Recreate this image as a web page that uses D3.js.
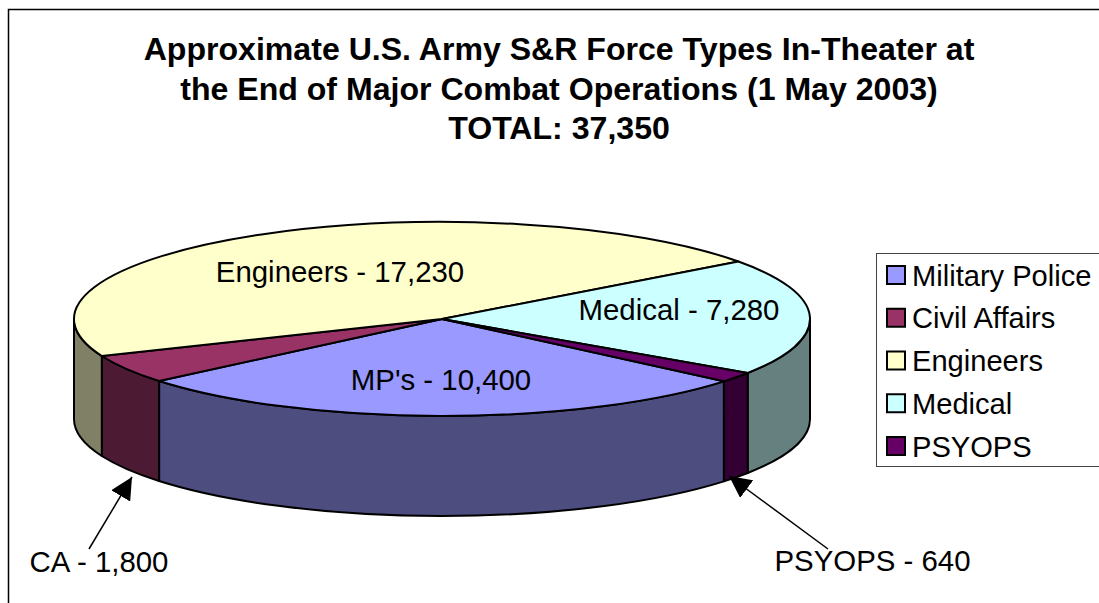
<!DOCTYPE html>
<html>
<head>
<meta charset="utf-8">
<script src="https://cdn.jsdelivr.net/npm/d3@7"></script>
<style>
  html, body { margin: 0; padding: 0; background: #fff; }
  svg { display: block; }
  text { font-family: "Liberation Sans", Arial, sans-serif; fill: #000; }
</style>
</head>
<body>
<div id="chart"></div>
<script>
const categories = ['Military Police', 'Civil Affairs', 'Engineers', 'Medical', 'PSYOPS']
const values = [10400, 1800, 17230, 7280, 640]
const topColors = ['#9999ff', '#993366', '#ffffcc', '#ccffff', '#660066']
const sideColors = ['#4d4d80', '#4d1a33', '#808066', '#668080', '#330033']
const titleLines = ['Approximate U.S. Army S&R Force Types In-Theater at', 'the End of Major Combat Operations (1 May 2003)', 'TOTAL: 37,350']
const sliceLabels = ["MP's - 10,400", null, 'Engineers - 17,230', 'Medical - 7,280', null]

const w = 1099, h = 603
const cx = 442, cy = 319, rx = 368, ry = 97, depth = 100
const startDeg = 130

const svg = d3.select('#chart').append('svg').attr('width', w).attr('height', h)

// chart frame, runs off the right and bottom of the picture
svg.append('path').attr('d', `M8.5,${h}V9.5H${w}`)
  .attr('fill', 'none').attr('stroke', '#000').attr('stroke-width', 1.5)

// title
svg.append('g').selectAll('text').data(titleLines).enter().append('text')
  .attr('x', 559).attr('y', (d, i) => 60 + i * 39.5)
  .attr('text-anchor', 'middle').attr('font-size', '32.1px').attr('font-weight', 'bold')
  .text(d => d)

// pie
const pie = d3.pie().sort(null)
  .startAngle(startDeg * Math.PI / 180)
  .endAngle((startDeg + 360) * Math.PI / 180)
const arcs = pie(values)

const px = d3.scaleLinear().domain([-1, 1]).range([cx - rx, cx + rx])
const py = d3.scaleLinear().domain([-1, 1]).range([cy - ry, cy + ry])
const pt = a => [px(Math.sin(a)), py(-Math.cos(a))]

// side wall of one slice between angles a and b (front half only)
function sidePath (a, b) {
  const [x0, y0] = pt(a), [x1, y1] = pt(b)
  return `M${x0},${y0}A${rx},${ry} 0 0 1 ${x1},${y1}V${y1 + depth}` +
    `A${rx},${ry} 0 0 0 ${x0},${y0 + depth}Z`
}
const TAU = 2 * Math.PI
const front = []
arcs.forEach((d, i) => {
  // wrap the angles so that they can be clipped against 90..270 degrees
  for (const off of [0, -TAU]) {
    const a = Math.max(d.startAngle + off, Math.PI / 2)
    const b = Math.min(d.endAngle + off, 3 * Math.PI / 2)
    if (b > a) front.push({ a, b, i })
  }
})
svg.append('g').selectAll('path').data(front).enter().append('path')
  .attr('d', d => sidePath(d.a, d.b))
  .attr('fill', d => sideColors[d.i])
  .attr('stroke', '#000').attr('stroke-width', 2).attr('stroke-linejoin', 'round')

const arc = d3.arc().innerRadius(0).outerRadius(rx)
svg.append('g')
  .attr('transform', `translate(${cx},${cy}) scale(1,${ry / rx})`)
  .selectAll('path').data(arcs).enter().append('path')
  .attr('d', arc)
  .attr('fill', (d, i) => topColors[i])
  .attr('stroke', '#000').attr('stroke-width', 2).attr('stroke-linejoin', 'round')
  .attr('vector-effect', 'non-scaling-stroke')

// labels on the slices
const labelPos = [[441, 390], null, [340, 282], [679, 320], null]
svg.append('g').selectAll('text').data(sliceLabels.map((t, i) => ({ t, p: labelPos[i] })).filter(d => d.t))
  .enter().append('text')
  .attr('x', d => d.p[0]).attr('y', d => d.p[1])
  .attr('text-anchor', 'middle').attr('font-size', '29.4px')
  .text(d => d.t)

// callouts for the two thin slices
svg.append('defs').append('marker').attr('id', 'head')
  .attr('viewBox', '0 0 10 10').attr('refX', 10).attr('refY', 5)
  .attr('markerUnits', 'userSpaceOnUse').attr('markerWidth', 22).attr('markerHeight', 22)
  .attr('orient', 'auto')
  .append('path').attr('d', 'M0,0L10,5L0,10Z').attr('fill', '#000')

const callouts = [
  { text: 'CA - 1,800', x: 99, y: 572, from: [89, 549], to: [132, 477] },
  { text: 'PSYOPS - 640', x: 872.5, y: 571, from: [828, 549], to: [729, 476] }
]
const co = svg.append('g')
co.selectAll('line').data(callouts).enter().append('line')
  .attr('x1', d => d.from[0]).attr('y1', d => d.from[1])
  .attr('x2', d => d.to[0]).attr('y2', d => d.to[1])
  .attr('stroke', '#000').attr('stroke-width', 1.5)
  .attr('marker-end', 'url(#head)')
co.selectAll('text').data(callouts).enter().append('text')
  .attr('x', d => d.x).attr('y', d => d.y)
  .attr('text-anchor', 'middle').attr('font-size', '29.4px')
  .text(d => d.text)

// legend
const legend = svg.append('g')
legend.append('rect').attr('x', 876.5).attr('y', 253.5).attr('width', 240).attr('height', 213)
  .attr('fill', '#fff').attr('stroke', '#444').attr('stroke-width', 1)
const legendY = d3.scalePoint().domain(categories).range([275, 446])
const rows = legend.selectAll('g').data(categories).enter().append('g')
  .attr('transform', d => `translate(0,${legendY(d)})`)
rows.append('rect').attr('x', 887).attr('y', -9).attr('width', 18).attr('height', 18)
  .attr('fill', (d, i) => topColors[i]).attr('stroke', '#000').attr('stroke-width', 2)
rows.append('text').attr('x', 912).attr('y', 10.5).attr('font-size', '29.1px').text(d => d)
</script>
</body>
</html>
